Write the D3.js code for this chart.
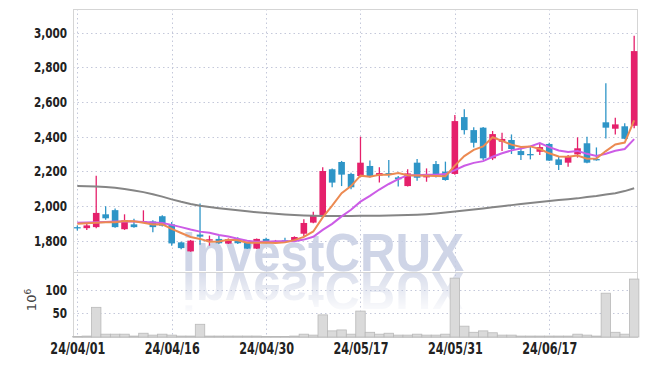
<!DOCTYPE html>
<html><head><meta charset="utf-8">
<script src="https://cdn.jsdelivr.net/npm/d3@7/dist/d3.min.js"></script>
<style>body{margin:0;background:#fff}svg{display:block}</style>
</head><body>
<svg id="c" width="647" height="366"></svg>
<script>
const dates=["24/04/01","24/04/02","24/04/03","24/04/04","24/04/05","24/04/08","24/04/09","24/04/11","24/04/12","24/04/15",
"24/04/16","24/04/17","24/04/18","24/04/19","24/04/22","24/04/23","24/04/24","24/04/25","24/04/26","24/04/29",
"24/04/30","24/05/02","24/05/03","24/05/07","24/05/08","24/05/09","24/05/10","24/05/13","24/05/14","24/05/16",
"24/05/17","24/05/20","24/05/21","24/05/22","24/05/23","24/05/24","24/05/27","24/05/28","24/05/29","24/05/30",
"24/05/31","24/06/03","24/06/04","24/06/05","24/06/07","24/06/10","24/06/11","24/06/12","24/06/13","24/06/14",
"24/06/17","24/06/18","24/06/19","24/06/20","24/06/21","24/06/24","24/06/25","24/06/26","24/06/27","24/06/28"];
const openP=[1878,1872,1878,1952,1976,1866,1894,1905,1911,1941,1894,1790,1738,1835,1800,1810,1783,1808,1790,1754,
1810,1788,1802,1798,1840,1904,1948,2212,2254,2185,2173,2231,2175,2190,2165,2115,2250,2165,2242,2198,
2185,2513,2438,2452,2275,2371,2381,2317,2300,2313,2358,2269,2250,2298,2362,2271,2483,2446,2460,2463];
const highP=[1888,1907,2175,1999,1985,1952,1927,1975,1917,1946,1907,1794,1804,2015,1829,1827,1813,1819,1794,1813,
1817,1804,1817,1825,1923,1967,2223,2217,2260,2192,2400,2262,2223,2265,2173,2212,2271,2217,2260,2256,
2525,2558,2454,2456,2433,2423,2413,2346,2346,2362,2365,2285,2294,2396,2400,2338,2708,2510,2477,2983];
const lowP=[1858,1862,1872,1921,1874,1862,1874,1901,1849,1882,1771,1751,1736,1777,1771,1781,1781,1781,1752,1752,
1785,1781,1792,1794,1827,1900,1942,2108,2115,2096,2165,2165,2135,2165,2112,2112,2146,2140,2165,2146,
2181,2413,2338,2265,2265,2317,2300,2265,2269,2294,2260,2208,2227,2279,2246,2262,2390,2413,2385,2448];
const closeP=[1874,1888,1960,1929,1878,1917,1878,1913,1878,1886,1784,1757,1800,1823,1808,1785,1808,1785,1754,1810,
1790,1798,1798,1821,1902,1948,2202,2135,2181,2108,2250,2173,2190,2185,2154,2188,2163,2181,2179,2150,
2490,2438,2365,2275,2415,2387,2329,2294,2296,2340,2262,2237,2285,2333,2250,2267,2452,2471,2388,2894];
const volume=[1,2,63,6,6,6,2,8,4,6,4,2,2,27,2,2,2,2,2,2,
1,1,1,2,6,4,47,13,15,6,55,10,6,8,4,4,6,4,4,6,
125,23,10,13,9,4,4,2,2,2,2,2,2,6,4,2,93,10,6,123];
const ma5=[1898,1900,1903,1906,1906,1914,1912,1903,1893,1894,1868,1844,1821,1810,1794,1795,1805,1802,1788,1788,
1789,1787,1790,1803,1822,1853,1934,2002,2074,2115,2175,2169,2180,2181,2190,2178,2176,2174,2173,2172,
2233,2288,2324,2344,2397,2376,2354,2340,2344,2329,2304,2286,2284,2291,2273,2274,2317,2355,2366,2494];
const ma10=[1903,1904,1906,1908,1910,1911,1910,1908,1905,1902,1891,1878,1864,1852,1846,1833,1824,1811,1800,1793,
1793,1796,1796,1797,1806,1822,1862,1897,1940,1978,2025,2058,2095,2127,2155,2178,2178,2181,2181,2184,
2207,2232,2249,2259,2284,2304,2321,2332,2344,2363,2340,2320,2312,2318,2301,2289,2302,2319,2329,2386];
const ma120=[2116,2114,2112,2109,2105,2098,2090,2080,2068,2054,2038,2024,2012,2002,1994,1987,1981,1975,1969,1964,
1959,1955,1951,1948,1945,1943,1942,1942,1942,1942,1943,1943,1944,1945,1946,1948,1950,1953,1957,1962,
1968,1974,1980,1986,1993,1999,2005,2011,2017,2023,2029,2034,2039,2044,2052,2058,2066,2074,2086,2102];
const priceTicks=[1800,2000,2200,2400,2600,2800,3000];
const volTicks=[50,100];
const xTickIdx=[0,10,20,30,40,50];

const FONT='"Liberation Sans Narrow","DejaVu Sans Condensed",sans-serif';
const svg=d3.select('#c');
const L=73,R=637,T=9,MB=272,VB=337;
const n=dates.length;
const x=d3.scaleLinear().domain([-0.46,59.3]).range([L,R]);
const step=x(1)-x(0);
const y=d3.scaleLinear().domain([1619,3137]).range([MB,T]);
const yv=d3.scaleLinear().domain([0,138]).range([VB,MB]);

const defs=svg.append('defs');
const g1=defs.append('linearGradient').attr('id','fg').attr('x1',0).attr('y1',0).attr('x2',0).attr('y2',1);
g1.append('stop').attr('offset','0%').attr('stop-color','#fff').attr('stop-opacity',0.55);
g1.append('stop').attr('offset','100%').attr('stop-color','#fff').attr('stop-opacity',0.0);
defs.append('mask').attr('id','fade').attr('maskUnits','userSpaceOnUse')
  .append('rect').attr('x',0).attr('y',272).attr('width',647).attr('height',44).attr('fill','url(#fg)');

const grid=svg.append('g').attr('stroke','#c4c8da').attr('stroke-width',1).attr('stroke-dasharray','1.5,3');
grid.selectAll('.gx').data(xTickIdx).join('line')
  .attr('x1',d=>Math.round(x(d))+0.5).attr('x2',d=>Math.round(x(d))+0.5).attr('y1',T).attr('y2',VB);
grid.selectAll('.gy').data(priceTicks).join('line')
  .attr('x1',L).attr('x2',R).attr('y1',d=>Math.round(y(d))+0.5).attr('y2',d=>Math.round(y(d))+0.5);
grid.selectAll('.gv').data(volTicks).join('line')
  .attr('x1',L).attr('x2',R).attr('y1',d=>Math.round(yv(d))+0.5).attr('y2',d=>Math.round(yv(d))+0.5);

// watermark (single group: main text and its reflection)
const wm=svg.append('g').attr('pointer-events','none');
wm.append('text').attr('x',182).attr('y',271).attr('textLength',282).attr('lengthAdjust','spacingAndGlyphs')
  .attr('font-family','"Liberation Sans",Arial,sans-serif').attr('font-weight','bold').attr('font-size',54)
  .attr('fill','#c7cee3').attr('fill-opacity',0.85).text('investCRUX');
wm.append('g').attr('mask','url(#fade)')
  .append('path').attr('d','').attr('id','reflpath');
wm.select('g').append('text').attr('x',182).attr('y',271).attr('textLength',282).attr('lengthAdjust','spacingAndGlyphs')
  .attr('transform','translate(0,543) scale(1,-1)')
  .attr('font-family','"Liberation Sans",Arial,sans-serif').attr('font-weight','bold').attr('font-size',54)
  .attr('fill','#b8c0da').attr('aria-hidden','true').text('investCRUX');

svg.append('rect').attr('x',L+0.5).attr('y',T+0.5).attr('width',R-L).attr('height',MB-T)
  .attr('fill','none').attr('stroke','#d5d5d5');
svg.append('rect').attr('x',L+0.5).attr('y',MB+0.5).attr('width',R-L).attr('height',VB-MB)
  .attr('fill','none').attr('stroke','#d5d5d5');

svg.append('g').selectAll('rect').data(d3.range(n)).join('rect')
  .attr('x',i=>x(i)-step/2).attr('width',step)
  .attr('y',i=>yv(volume[i])).attr('height',i=>VB-yv(volume[i]))
  .attr('fill','#dadada').attr('stroke','#b9b9b9').attr('stroke-width',0.8);

const UP='#e5206b',DN='#2e95c7';
const cg=svg.append('g');
const col=i=>closeP[i]>=openP[i]?UP:DN;
cg.selectAll('line').data(d3.range(n)).join('line')
  .attr('x1',i=>x(i)).attr('x2',i=>x(i)).attr('y1',i=>y(highP[i])).attr('y2',i=>y(lowP[i]))
  .attr('stroke',col).attr('stroke-width',1.3);
cg.selectAll('rect').data(d3.range(n)).join('rect')
  .attr('x',i=>x(i)-3.3).attr('width',6.6)
  .attr('y',i=>y(Math.max(openP[i],closeP[i])))
  .attr('height',i=>Math.max(1.3,Math.abs(y(openP[i])-y(closeP[i]))))
  .attr('fill',col);

const line=arr=>d3.line().x((d,i)=>x(i)).y(d=>y(d))(arr);
svg.append('path').attr('d',line(ma120)).attr('fill','none').attr('stroke','#858585').attr('stroke-width',2);
svg.append('path').attr('d',line(ma10)).attr('fill','none').attr('stroke','#cc5ce6').attr('stroke-width',2);
svg.append('path').attr('d',line(ma5)).attr('fill','none').attr('stroke','#ec8a52').attr('stroke-width',2);

const ay=svg.append('g').attr('transform',`translate(${L},0)`)
  .call(d3.axisLeft(y).tickValues(priceTicks).tickFormat(d3.format(',')).tickSize(0).tickPadding(6));
const avy=svg.append('g').attr('transform',`translate(${L},0)`)
  .call(d3.axisLeft(yv).tickValues(volTicks).tickFormat(d3.format(',')).tickSize(0).tickPadding(6));
const ax=svg.append('g').attr('transform',`translate(0,${VB})`)
  .call(d3.axisBottom(x).tickValues(xTickIdx).tickFormat(i=>dates[i]).tickSize(0).tickPadding(6));
[ay,avy,ax].forEach(a=>{a.select('.domain').remove();
  a.selectAll('text').attr('font-family',FONT).attr('font-weight','bold').attr('fill','#222');});
ay.selectAll('text').attr('font-size',14);
avy.selectAll('text').attr('font-size',14);
ax.selectAll('text').attr('font-size',15);
// condense labels to match the narrow face of the original
[ay,avy,ax].forEach(a=>a.selectAll('text').each(function(){
  const w=this.getComputedTextLength();
  d3.select(this).attr('textLength',w*0.83).attr('lengthAdjust','spacingAndGlyphs');
}));

const ul=svg.append('text').attr('transform','translate(36,300) rotate(-90)').attr('text-anchor','middle')
  .attr('font-family','"DejaVu Sans",sans-serif').attr('font-size',13).attr('fill','#444');
ul.append('tspan').text('10');
ul.append('tspan').attr('dy',-5).attr('font-size',9).text('6');
</script>
</body></html>
